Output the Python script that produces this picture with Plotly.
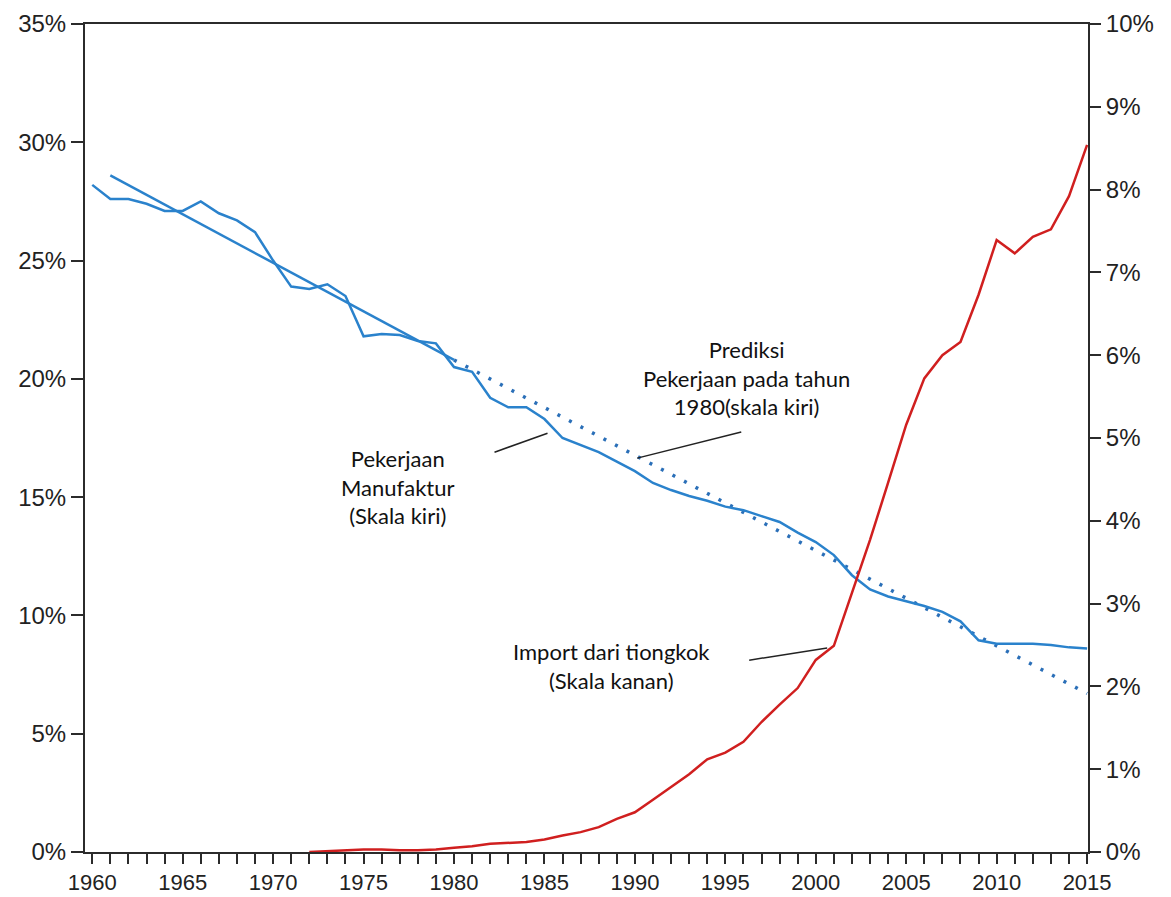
import plotly.graph_objects as go

years_mfg = list(range(1960, 2016))
mfg_share = [28.2, 27.6, 27.6, 27.4, 27.1, 27.1, 27.5, 27.0, 26.7, 26.2,
             25.0, 23.9, 23.8, 24.0, 23.5, 21.8, 21.9, 21.85, 21.6, 21.5,
             20.5, 20.3, 19.2, 18.8, 18.8, 18.3, 17.5, 17.2, 16.9, 16.5,
             16.1, 15.6, 15.3, 15.05, 14.85, 14.6, 14.45, 14.2, 13.95, 13.5,
             13.1, 12.55, 11.7, 11.1, 10.8, 10.6, 10.4, 10.15, 9.75, 8.95,
             8.8, 8.8, 8.8, 8.75, 8.65, 8.6]

trend_years_solid = [1961, 1980]
trend_solid = [28.6, 20.8]
trend_years_dot = [1980, 2015]
trend_dot = [20.8, 6.7]

years_imp = list(range(1972, 2016))
imp_share = [0.0, 0.01, 0.02, 0.03, 0.03, 0.02, 0.02, 0.03,
             0.05, 0.07, 0.10, 0.11, 0.12, 0.15, 0.20, 0.24, 0.30, 0.40,
             0.48, 0.63, 0.78, 0.94, 1.12, 1.20, 1.33, 1.57, 1.78, 1.98,
             2.32, 2.49, 3.13, 3.77, 4.46, 5.16, 5.72, 6.00, 6.16, 6.73,
             7.39, 7.23, 7.43, 7.52, 7.92, 8.54]

x_ticks = list(range(1960, 2016, 5))
left_ticks = list(range(0, 36, 5))
right_ticks = list(range(0, 11))

BLUE = "#2a82cc"
DOTBLUE = "#2a6fb8"
RED = "#d01f1f"
AXIS = "#2b2b2b"
TICKFONT = dict(family="Liberation Sans, Arial, sans-serif", size=24, color="#222222")
XTICKFONT = dict(family="Liberation Sans, Arial, sans-serif", size=22, color="#222222")
ANNFONT = dict(family="Lato, Carlito, sans-serif", size=22, color="#111111")

fig = go.Figure()
fig.add_trace(go.Scatter(x=trend_years_solid, y=trend_solid, mode="lines",
                         line=dict(color=BLUE, width=2.5), yaxis="y", showlegend=False))
fig.add_trace(go.Scatter(x=trend_years_dot, y=trend_dot, mode="lines",
                         line=dict(color=DOTBLUE, width=3.5, dash="3px,10px"), yaxis="y", showlegend=False))
fig.add_trace(go.Scatter(x=years_mfg, y=mfg_share, mode="lines",
                         line=dict(color=BLUE, width=2.5), yaxis="y", showlegend=False))
fig.add_trace(go.Scatter(x=years_imp, y=imp_share, mode="lines",
                         line=dict(color=RED, width=2.5), yaxis="y2", showlegend=False))

fig.update_layout(
    width=1163, height=889,
    margin=dict(l=77, r=83, t=16, b=45, autoexpand=False),
    paper_bgcolor="white", plot_bgcolor="white",
    xaxis=dict(range=[1959.6, 2015.05], tickvals=x_ticks, ticktext=[str(v) for v in x_ticks],
               showgrid=False, zeroline=False, showline=True, linecolor=AXIS, linewidth=2,
               mirror=True, ticks="outside", ticklen=10, tickwidth=2, tickcolor=AXIS,
               minor=dict(dtick=1, tick0=1960, ticks="outside", ticklen=10, tickwidth=2,
                          tickcolor=AXIS, showgrid=False),
               tickfont=XTICKFONT, automargin=False),
    yaxis=dict(range=[0, 35], tickvals=left_ticks, ticktext=[f"{v}%" for v in left_ticks],
               showgrid=False, zeroline=False, showline=True, linecolor=AXIS, linewidth=2,
               mirror=True, ticks="outside", ticklen=12, tickwidth=2, tickcolor=AXIS,
               tickfont=TICKFONT, automargin=False),
    yaxis2=dict(range=[0, 10], tickvals=right_ticks, ticktext=[f"{v}%" for v in right_ticks],
                overlaying="y", side="right", showgrid=False, zeroline=False,
                ticks="outside", ticklen=12, tickwidth=2, tickcolor=AXIS,
                tickfont=TICKFONT, automargin=False),
)

fig.add_annotation(x=1996.15, y=20.03, xref="x", yref="y",
                   text="Prediksi<br>Pekerjaan pada tahun<br>1980(skala kiri)",
                   showarrow=False, align="center", font=ANNFONT)
fig.add_annotation(x=1976.9, y=15.43, xref="x", yref="y",
                   text="Pekerjaan<br>Manufaktur<br>(Skala kiri)",
                   showarrow=False, align="center", font=ANNFONT)
fig.add_annotation(x=1988.7, y=7.86, xref="x", yref="y",
                   text="Import dari tiongkok<br>(Skala kanan)",
                   showarrow=False, align="center", font=ANNFONT)

leaders = [((1990.13, 16.65), (1995.88, 17.75)),
           ((1982.24, 16.9), (1985.17, 17.7)),
           ((1996.32, 8.11), (2000.63, 8.62))]
for (x0, y0), (x1, y1) in leaders:
    fig.add_shape(type="line", xref="x", yref="y", x0=x0, y0=y0, x1=x1, y1=y1,
                  line=dict(color="#222222", width=1.5))

fig.write_html("out.html")
